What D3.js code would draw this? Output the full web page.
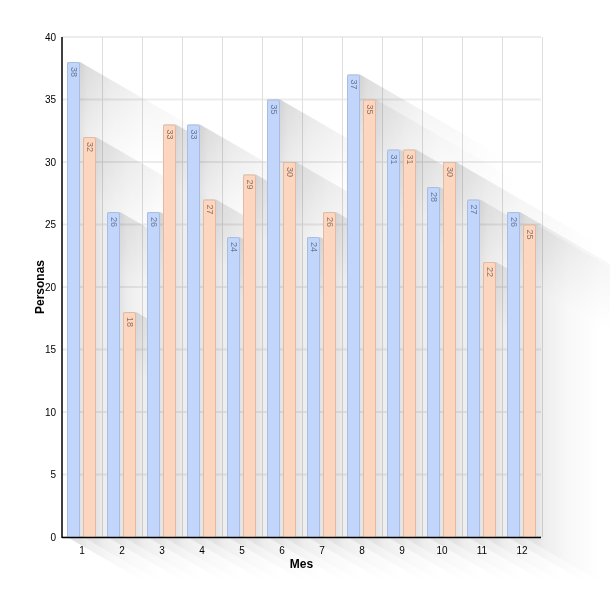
<!DOCTYPE html>
<html><head><meta charset="utf-8">
<script src="https://cdn.jsdelivr.net/npm/d3@7"></script>
<style>body{margin:0;background:#fff}svg{display:block}</style>
</head><body>
<svg id="c" width="610" height="601"></svg>
<script>
const months = ["1","2","3","4","5","6","7","8","9","10","11","12"];
const seriesA = [38,26,26,33,24,35,24,37,31,28,27,26];
const seriesB = [32,18,33,27,29,30,26,35,31,30,22,25];
const yTicks = [0,5,10,15,20,25,30,35,40];
const xTitle = "Mes";
const yTitle = "Personas";

const svg = d3.select("#c");
const L = 62, R = 541, T = 37, B = 537;
const x = d3.scaleBand().domain(months).range([L, R + 1]);
const y = d3.scaleLinear().domain([0, 40]).range([B, T]);
const defs = svg.append("defs");

// horizontal grid
svg.append("g").selectAll("line").data(yTicks).join("line")
  .attr("x1", L).attr("x2", R).attr("y1", d => y(d)).attr("y2", d => y(d))
  .attr("stroke", "#ececec").attr("stroke-width", 2);
// vertical grid
svg.append("g").selectAll("line").data(months).join("line")
  .attr("x1", d => x(d) + x.bandwidth() + 0.5).attr("x2", d => x(d) + x.bandwidth() + 0.5)
  .attr("y1", T).attr("y2", B).attr("stroke", "#dedede").attr("stroke-width", 1);

const bw = 13;
const bars = [];
months.forEach((m, i) => {
  bars.push({m, v: seriesA[i], x0: x(m) + 5, s: 0});
  bars.push({m, v: seriesB[i], x0: x(m) + 21, s: 1});
});

// long shadows (opaque gray->white, later ones cover earlier; whole group multiplied)
const ang = 30 * Math.PI / 180, SL = 150;
const dx = SL, dy = SL * Math.tan(ang);
const nx = -Math.sin(ang), ny = Math.cos(ang);
const sh = svg.append("g").style("mix-blend-mode", "multiply").style("isolation", "isolate");
bars.forEach((b, k) => {
  const xl = b.x0, xr = b.x0 + bw, yt = y(b.v), yb = B;
  const pts = [[xl, yt], [xr, yt], [xr + dx, yt + dy], [xr + dx, yb + dy], [xl + dx, yb + dy], [xl, yb]];
  const d = "M" + pts.map(p => p.join(",")).join("L") + "Z";
  const sg = defs.append("linearGradient").attr("id", "s" + k)
    .attr("gradientUnits", "userSpaceOnUse")
    .attr("x1", xr).attr("y1", 0).attr("x2", xr + 65).attr("y2", 0);
  sg.append("stop").attr("offset", 0).attr("stop-color", "#000").attr("stop-opacity", 0.11);
  sg.append("stop").attr("offset", 0.12).attr("stop-color", "#000").attr("stop-opacity", 0.07);
  sg.append("stop").attr("offset", 0.5).attr("stop-color", "#000").attr("stop-opacity", 0.028);
  sg.append("stop").attr("offset", 1).attr("stop-color", "#000").attr("stop-opacity", 0);
  const bgd = defs.append("linearGradient").attr("id", "b" + k)
    .attr("gradientUnits", "userSpaceOnUse")
    .attr("x1", xr).attr("y1", yt).attr("x2", xr + 55 * nx).attr("y2", yt + 55 * ny);
  bgd.append("stop").attr("offset", 0).attr("stop-color", "#000").attr("stop-opacity", 0.07);
  bgd.append("stop").attr("offset", 1).attr("stop-color", "#000").attr("stop-opacity", 0);
  const mg = defs.append("linearGradient").attr("id", "mg" + k)
    .attr("gradientUnits", "userSpaceOnUse")
    .attr("x1", xr).attr("y1", 0).attr("x2", xr + 140).attr("y2", 0);
  mg.append("stop").attr("offset", 0).attr("stop-color", "#fff");
  mg.append("stop").attr("offset", 1).attr("stop-color", "#000");
  defs.append("mask").attr("id", "m" + k).attr("maskUnits", "userSpaceOnUse")
    .attr("x", 0).attr("y", 0).attr("width", 610).attr("height", 601)
    .append("rect").attr("width", 610).attr("height", 601).attr("fill", `url(#mg${k})`);
  const g = sh.append("g");
  g.append("path").attr("d", d).attr("fill", "#fff");
  g.append("path").attr("d", d).attr("fill", `url(#s${k})`);
  g.append("path").attr("d", d).attr("fill", `url(#b${k})`).attr("mask", `url(#m${k})`);
});

// bars
const fills = ["#c2d6fb", "#fdd6c0"];
const strokes = ["#a9bde2", "#e2b9a3"];
const txtc = ["#66789a", "#8f7262"];
const font = "Arial, Liberation Sans, sans-serif";
const bg = svg.append("g");
bars.forEach(b => {
  const yt = y(b.v), r = 2;
  const xl = b.x0 + 0.5, xr = b.x0 + bw - 0.5;
  bg.append("path")
    .attr("d", `M${xl},${B}V${yt + r}Q${xl},${yt + 0.5} ${xl + r},${yt + 0.5}H${xr - r}Q${xr},${yt + 0.5} ${xr},${yt + r}V${B}`)
    .attr("fill", fills[b.s]).attr("stroke", strokes[b.s]).attr("stroke-width", 1);
  bg.append("text")
    .attr("transform", `translate(${b.x0 + bw / 2 - 3},${yt + 5}) rotate(90)`)
    .attr("font-family", font).attr("font-size", 9)
    .attr("fill", txtc[b.s]).text(b.v);
});

// axes
svg.append("line").attr("x1", L).attr("x2", L).attr("y1", T).attr("y2", B + 1)
  .attr("stroke", "#000").attr("stroke-width", 1.5);
svg.append("line").attr("x1", L).attr("x2", R).attr("y1", B + 0.5).attr("y2", B + 0.5)
  .attr("stroke", "#000").attr("stroke-width", 1.5);

svg.append("g").selectAll("text").data(yTicks).join("text")
  .attr("x", L - 6).attr("y", d => y(d) + 3.5).attr("text-anchor", "end")
  .attr("font-family", font).attr("font-size", 10).attr("fill", "#000").text(d => d);
svg.append("g").selectAll("text").data(months).join("text")
  .attr("x", d => x(d) + x.bandwidth() / 2).attr("y", B + 17).attr("text-anchor", "middle")
  .attr("font-family", font).attr("font-size", 10).attr("fill", "#000").text(d => d);

svg.append("text").attr("x", (L + R) / 2).attr("y", 568).attr("text-anchor", "middle")
  .attr("font-family", font).attr("font-size", 12).attr("font-weight", "bold").text(xTitle);
svg.append("text").attr("transform", `translate(44,${(T + B) / 2}) rotate(-90)`)
  .attr("text-anchor", "middle")
  .attr("font-family", font).attr("font-size", 12).attr("font-weight", "bold").text(yTitle);
</script>
</body></html>
